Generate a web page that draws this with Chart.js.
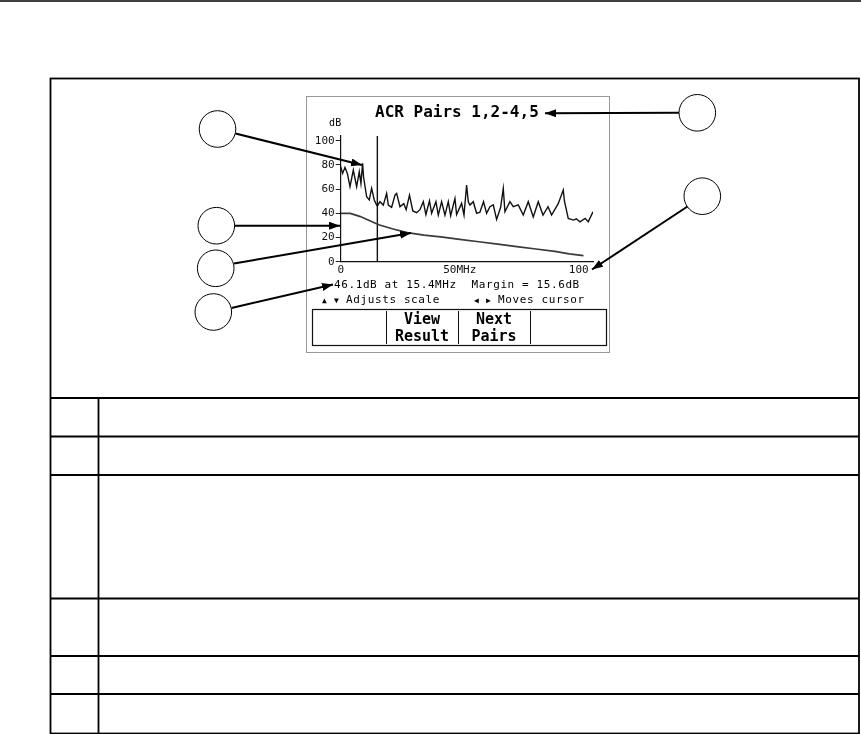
<!DOCTYPE html>
<html>
<head>
<meta charset="utf-8">
<script src="https://cdn.jsdelivr.net/npm/chart.js@4.4.1/dist/chart.umd.min.js"></script>
<style>
  html, body { margin: 0; padding: 0; background: #fff; }
  #page { position: relative; width: 861px; height: 734px; overflow: hidden; background: #fff; }
  #chart { position: absolute; left: 0; top: 0; }
  svg { position: absolute; left: 0; top: 0; }
  .t { position: absolute; white-space: pre; line-height: 1; color: #000; font-family: "DejaVu Sans Mono", "Liberation Mono", monospace; }
  .title { font-size: 16px; font-weight: bold; }
  .small { font-size: 11px; letter-spacing: 0.6px; }
  .key { font-size: 15px; font-weight: bold; text-align: center; width: 72px; }
  .tri { font-size: 8px; letter-spacing: 0; }
</style>
</head>
<body>
<div id="page">
  <canvas id="chart" width="861" height="734"></canvas>
  <svg width="861" height="734" viewBox="0 0 861 734">
    <defs>
      <marker id="ah" markerUnits="userSpaceOnUse" markerWidth="12" markerHeight="10" refX="11" refY="4" orient="auto">
        <path d="M0,0 L11,4 L0,8 z" fill="#000"/>
      </marker>
    </defs>
    <!-- page rule and frame -->
    <line x1="0" y1="1" x2="861" y2="1" stroke="#000" stroke-width="1.5"/>
    <rect x="50.5" y="78.5" width="808.5" height="655" fill="none" stroke="#000" stroke-width="1.8"/>
    <!-- table rows -->
    <g stroke="#000" stroke-width="1.8">
      <line x1="50" y1="398" x2="859" y2="398"/>
      <line x1="50" y1="436.5" x2="859" y2="436.5"/>
      <line x1="50" y1="475" x2="859" y2="475"/>
      <line x1="50" y1="598.5" x2="859" y2="598.5"/>
      <line x1="50" y1="656" x2="859" y2="656"/>
      <line x1="50" y1="694" x2="859" y2="694"/>
      <line x1="98.5" y1="398" x2="98.5" y2="733"/>
    </g>
    <!-- instrument screen -->
    <rect x="306.5" y="96.5" width="303" height="256" fill="none" stroke="#999" stroke-width="1"/>
    <rect x="312.5" y="309.5" width="294" height="36" fill="none" stroke="#111" stroke-width="1.2"/>
    <g stroke="#111" stroke-width="1">
      <line x1="386.5" y1="311" x2="386.5" y2="344"/>
      <line x1="458.5" y1="311" x2="458.5" y2="344"/>
      <line x1="530.5" y1="311" x2="530.5" y2="344"/>
    </g>
    <!-- callout circles -->
    <g fill="#fff" stroke="#000" stroke-width="1">
      <circle cx="217.5" cy="129" r="18.3"/>
      <circle cx="216.3" cy="225.7" r="18.3"/>
      <circle cx="215.7" cy="268.3" r="18.3"/>
      <circle cx="213.3" cy="312" r="18.3"/>
      <circle cx="697.3" cy="112.8" r="18.3"/>
      <circle cx="702.3" cy="196.2" r="18.3"/>
    </g>
    <!-- callout arrows -->
    <g stroke="#000" stroke-width="2" marker-end="url(#ah)">
      <line x1="235.5" y1="133.5" x2="362" y2="165"/>
      <line x1="234.6" y1="225.7" x2="340" y2="225.7"/>
      <line x1="234" y1="263.5" x2="411" y2="233"/>
      <line x1="231.5" y1="308" x2="333" y2="284.5"/>
      <line x1="679" y1="112.8" x2="545" y2="113.3"/>
      <line x1="687.5" y1="206.5" x2="592" y2="269.5"/>
    </g>
  </svg>
  <div class="t title" style="left:375px; top:104px;">ACR Pairs 1,2-4,5</div>
  <div class="t small" style="left:329px; top:118px; font-size:10px; letter-spacing:0.3px;">dB</div>
  <div class="t small" style="left:334px; top:279px;">46.1dB at 15.4MHz</div>
  <div class="t small" style="left:471.5px; top:279px;">Margin = 15.6dB</div>
  <div class="t small" style="left:322px; top:294px;"><span class="tri">▲</span> <span class="tri">▼</span> Adjusts scale</div>
  <div class="t small" style="left:474px; top:294px;"><span class="tri">◀</span> <span class="tri">▶</span> Moves cursor</div>
  <div class="t key" style="left:386px; top:312px;">View</div>
  <div class="t key" style="left:386px; top:329px;">Result</div>
  <div class="t key" style="left:458px; top:312px;">Next</div>
  <div class="t key" style="left:458px; top:329px;">Pairs</div>
</div>
<script>
// ACR trace, frequency (MHz) and ACR (dB)
const freqMHz = [
  0, 0.8, 1.8, 2.8, 3.9, 5.3, 6.7, 7.8, 8.5, 9.2,
  9.6, 10.9, 12, 13, 14.1, 15.1, 15.4, 16.5, 17.9, 19.3,
  20, 21.4, 22.8, 23.5, 24.9, 26.5, 27.5, 28.9, 30.3, 31.9,
  33.3, 34.7, 35.8, 37.3, 38.2, 40, 41, 42.4, 43.8, 45.2,
  46.2, 48, 48.7, 50.8, 51.8, 52.9, 53.6, 54.3, 55.7, 57.1,
  58.5, 60, 61.3, 62.7, 64.1, 65.5, 67.2, 68.3, 69, 71.1,
  72.5, 74.6, 76.7, 78.8, 80.9, 83, 85, 87.1, 88.6, 91.4,
  93.5, 94, 95.6, 97.8, 99, 100.5, 102.7, 104, 106
];
const acrDb = [
  78.5, 73, 78, 73, 62, 75.8, 62, 74.4, 64.7, 81.3,
  70, 53.7, 51, 60.6, 51, 46.8, 46.1, 49.6, 46.8, 56.5,
  46.8, 45, 55, 56.5, 45.5, 48, 43, 55, 42, 40.5,
  43, 49.6, 39, 50.4, 40, 49.6, 38.5, 49.6, 38.5, 49.6,
  38, 52.3, 39, 48.2, 38.5, 63.4, 49.6, 46.8, 49.6, 40,
  41, 49.6, 40, 45.5, 47, 35, 45, 60.6, 41.3, 49.6,
  45.5, 47, 38.6, 49.6, 37, 49.6, 38.6, 45.5, 38.6, 48,
  59.3, 50, 35.8, 34.4, 35.5, 33, 35.8, 33, 41.3
];
// Limit line
const limitMHz = [0, 4, 8, 12, 16, 22, 28, 35, 42, 50, 58, 66, 74, 82, 90, 96, 102];
const limitDb  = [40, 40, 37.5, 34, 30.5, 27, 24, 22, 20.5, 18.5, 16.5, 14.5, 12.5, 10.5, 8.5, 6.5, 5];
// Cursor
const cursorMHz = [15.4, 15.4];
const cursorDb = [0, 104];
// Axis ticks
const xTicks = [0, 50, 100];
const yTicks = [0, 20, 40, 60, 80, 100];

const pts = (xs, ys) => xs.map((x, i) => ({x: x, y: ys[i]}));
const tickFont = {family: "'DejaVu Sans Mono', monospace", size: 11};

new Chart(document.getElementById('chart'), {
  type: 'scatter',
  data: {
    datasets: [
      {data: pts(freqMHz, acrDb), showLine: true, borderColor: '#111', borderWidth: 1.4, pointRadius: 0, tension: 0},
      {data: pts(limitMHz, limitDb), showLine: true, borderColor: '#3a3a3a', borderWidth: 1.7, pointRadius: 0, tension: 0},
      {data: pts(cursorMHz, cursorDb), showLine: true, borderColor: '#111', borderWidth: 1.4, pointRadius: 0}
    ]
  },
  options: {
    responsive: false,
    animation: false,
    devicePixelRatio: 1,
    layout: {padding: {left: 300, right: 268, top: 135.9, bottom: 452.3}},
    plugins: {legend: {display: false}, tooltip: {enabled: false}},
    scales: {
      x: {
        type: 'linear', min: 0, max: 106,
        afterFit: s => { s.height = 20; },
        afterBuildTicks: s => { s.ticks = xTicks.map(v => ({value: v})); },
        grid: {drawOnChartArea: false, drawTicks: false},
        border: {display: true, color: '#111', width: 1.2},
        ticks: {color: '#111', font: tickFont, padding: 2, maxRotation: 0,
          callback: v => (v === 50 ? '50MHz' : String(v))}
      },
      y: {
        type: 'linear', min: 0, max: 104,
        afterFit: s => { s.width = 40.7; },
        afterBuildTicks: s => { s.ticks = yTicks.map(v => ({value: v})); },
        grid: {drawOnChartArea: false, drawTicks: true, tickLength: 5, color: '#222'},
        border: {display: true, color: '#111', width: 1.2},
        ticks: {color: '#111', font: tickFont, padding: 1}
      }
    }
  }
});
</script>
</body>
</html>
